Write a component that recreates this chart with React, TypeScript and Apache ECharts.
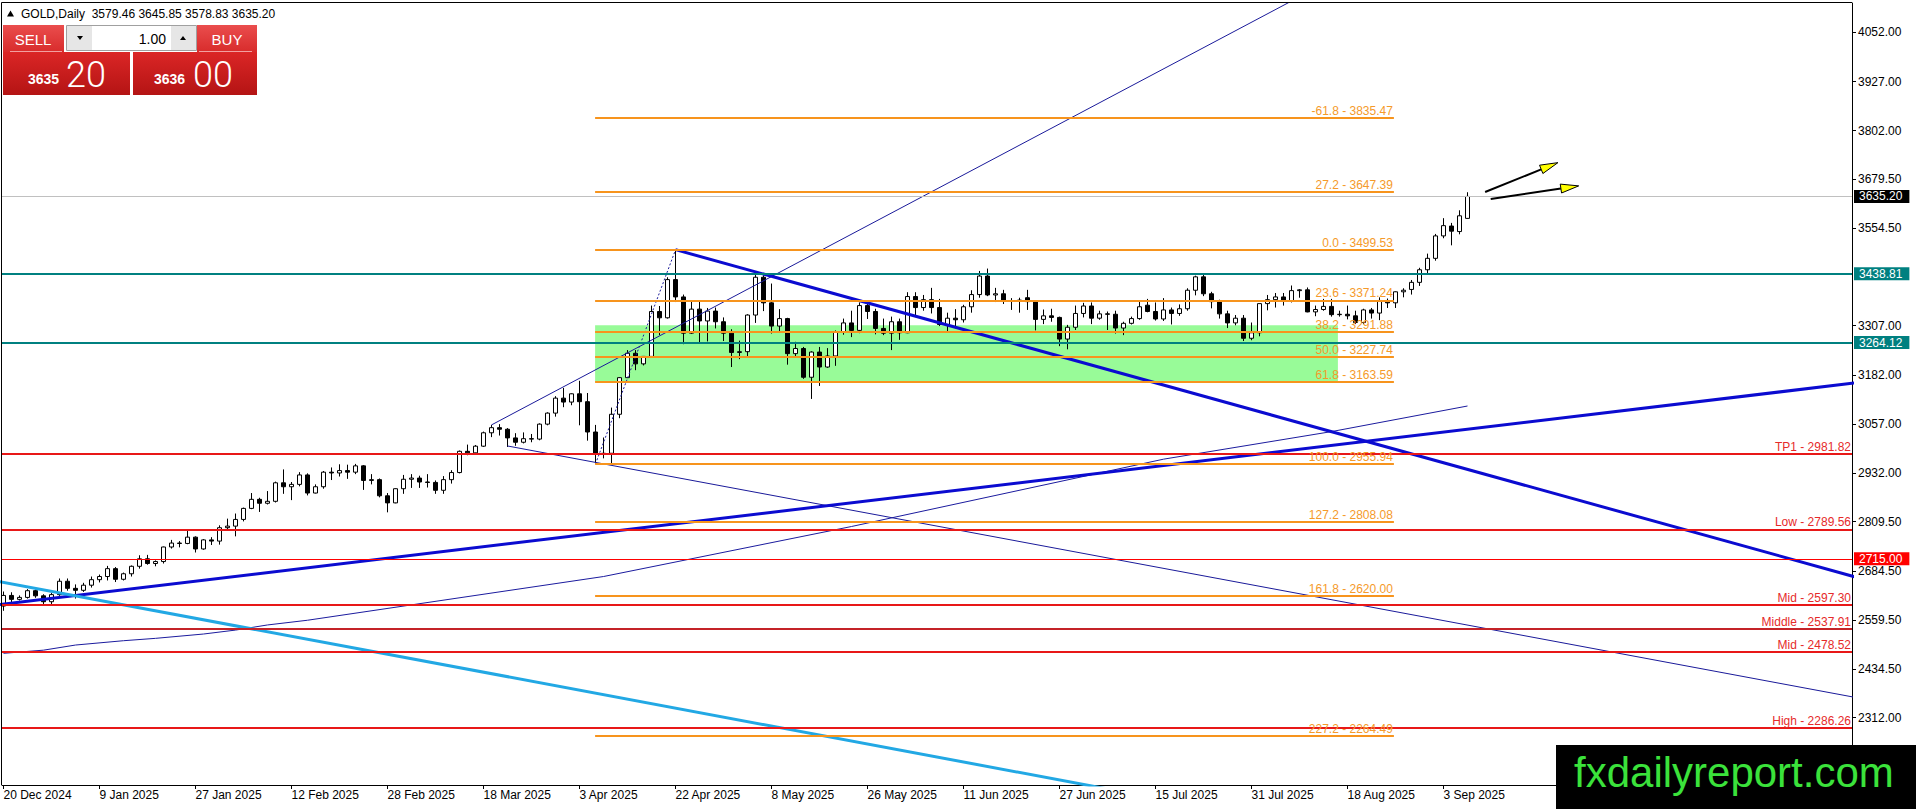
import React, { useEffect, useRef } from 'react';
import * as echarts from 'echarts';

const W = 1916;
const H = 809;
const FONT = '"Liberation Sans", Arial, Helvetica, sans-serif';

// ---- daily candles, 20 Dec 2024 (bar 0) .. 8 Sep 2025 (bar 183)
const opens = [
  2595, 2622, 2612, 2617, 2634, 2621, 2606, 2624, 2658, 2640, 2635, 2648,
  2662, 2670, 2690, 2663, 2677, 2696, 2715, 2703, 2708, 2745, 2755, 2754,
  2770, 2740, 2763, 2760, 2794, 2798, 2815, 2843, 2866, 2856, 2861, 2908,
  2898, 2904, 2928, 2882, 2898, 2935, 2933, 2939, 2935, 2951, 2914, 2916,
  2875, 2857, 2893, 2917, 2920, 2910, 2909, 2889, 2916, 2934, 2988, 2984,
  3001, 3035, 3048, 3044, 3022, 3011, 3020, 3019, 3057, 3085, 3123, 3113,
  3134, 3114, 3037, 2982, 2983, 3082, 3175, 3237, 3210, 3229, 3343, 3327,
  3424, 3380, 3288, 3349, 3319, 3344, 3317, 3288, 3239, 3241, 3334, 3430,
  3365, 3306, 3325, 3236, 3249, 3176, 3240, 3202, 3230, 3290, 3314, 3295,
  3358, 3343, 3300, 3288, 3317, 3289, 3381, 3353, 3373, 3353, 3310, 3326,
  3322, 3355, 3386, 3433, 3385, 3388, 3369, 3370, 3378, 3368, 3323, 3332,
  3328, 3273, 3303, 3338, 3357, 3326, 3337, 3336, 3301, 3313, 3325, 3359,
  3343, 3324, 3347, 3338, 3350, 3397, 3431, 3388, 3368, 3337, 3314, 3326,
  3275, 3289, 3363, 3373, 3380, 3369, 3396, 3398, 3342, 3348, 3356, 3335,
  3336, 3332, 3315, 3347, 3339, 3371, 3365, 3393, 3399, 3417, 3449, 3478,
  3535, 3560, 3546, 3579.46,
];
const highs = [
  2632, 2630, 2622, 2638, 2637, 2625, 2628, 2665, 2665, 2650, 2654, 2670,
  2675, 2697, 2694, 2680, 2698, 2724, 2725, 2711, 2746, 2763, 2760, 2786,
  2772, 2765, 2770, 2800, 2817, 2830, 2845, 2882, 2870, 2887, 2911, 2942,
  2910, 2935, 2932, 2904, 2938, 2947, 2955, 2954, 2956, 2953, 2930, 2919,
  2882, 2894, 2928, 2930, 2926, 2930, 2914, 2925, 2940, 2990, 3005, 3004,
  3038, 3055, 3057, 3047, 3034, 3036, 3032, 3059, 3087, 3128, 3149, 3135,
  3167, 3136, 3055, 3023, 3099, 3176, 3245, 3245, 3230, 3358, 3357, 3430,
  3500, 3386, 3368, 3371, 3352, 3353, 3328, 3298, 3269, 3336, 3436, 3435,
  3414, 3349, 3327, 3266, 3253, 3242, 3253, 3250, 3295, 3325, 3345, 3366,
  3365, 3350, 3325, 3330, 3325, 3392, 3392, 3385, 3403, 3375, 3340, 3349,
  3360, 3397, 3446, 3452, 3403, 3398, 3377, 3378, 3398, 3370, 3348, 3350,
  3330, 3309, 3358, 3365, 3366, 3345, 3343, 3345, 3317, 3330, 3369, 3375,
  3366, 3377, 3353, 3361, 3402, 3434, 3439, 3393, 3373, 3345, 3334, 3334,
  3315, 3363, 3385, 3390, 3390, 3409, 3400, 3404, 3358, 3375, 3375, 3345,
  3358, 3345, 3350, 3352, 3379, 3376, 3394, 3402, 3423, 3454, 3490, 3540,
  3580, 3568, 3600, 3645.85,
];
const lows = [
  2583, 2603, 2609, 2614, 2616, 2597, 2599, 2621, 2634, 2614, 2631, 2642,
  2655, 2660, 2656, 2660, 2670, 2690, 2700, 2696, 2703, 2741, 2744, 2752,
  2731, 2738, 2750, 2751, 2788, 2772, 2810, 2841, 2834, 2853, 2858, 2880,
  2864, 2899, 2876, 2881, 2893, 2915, 2924, 2918, 2930, 2890, 2904, 2871,
  2833, 2856, 2880, 2895, 2895, 2896, 2880, 2880, 2906, 2932, 2978, 2983,
  2999, 3024, 3028, 2999, 3002, 3008, 3011, 3016, 3054, 3076, 3100, 3105,
  3054, 3015, 2956, 2970, 2957, 3072, 3174, 3194, 3206, 3228, 3283, 3325,
  3367, 3260, 3286, 3265, 3267, 3300, 3268, 3202, 3222, 3226, 3314, 3344,
  3287, 3290, 3208, 3228, 3172, 3121, 3154, 3200, 3205, 3284, 3278, 3288,
  3324, 3285, 3283, 3245, 3271, 3288, 3333, 3345, 3338, 3306, 3293, 3300,
  3315, 3340, 3378, 3382, 3367, 3362, 3347, 3340, 3347, 3295, 3311, 3317,
  3255, 3247, 3296, 3328, 3311, 3322, 3296, 3287, 3283, 3310, 3322, 3341,
  3320, 3319, 3310, 3332, 3345, 3384, 3382, 3351, 3325, 3301, 3308, 3268,
  3270, 3280, 3346, 3353, 3358, 3366, 3378, 3341, 3331, 3345, 3330, 3330,
  3323, 3311, 3311, 3325, 3321, 3352, 3352, 3379, 3386, 3408, 3436, 3472,
  3529, 3511, 3539, 3578.83,
];
const closes = [
  2622, 2612, 2617, 2634, 2621, 2606, 2624, 2658, 2640, 2635, 2648, 2662,
  2670, 2690, 2663, 2677, 2696, 2715, 2703, 2708, 2745, 2755, 2754, 2770,
  2740, 2763, 2760, 2794, 2798, 2815, 2843, 2866, 2856, 2861, 2908, 2898,
  2904, 2928, 2882, 2898, 2935, 2933, 2939, 2935, 2951, 2914, 2916, 2875,
  2857, 2893, 2917, 2920, 2910, 2909, 2889, 2916, 2934, 2988, 2984, 3001,
  3035, 3048, 3044, 3022, 3011, 3020, 3019, 3057, 3085, 3123, 3113, 3134,
  3114, 3037, 2982, 2983, 3082, 3175, 3237, 3210, 3229, 3343, 3327, 3424,
  3380, 3288, 3349, 3319, 3344, 3317, 3288, 3239, 3241, 3334, 3430, 3365,
  3306, 3325, 3236, 3249, 3176, 3240, 3202, 3230, 3290, 3314, 3295, 3358,
  3343, 3300, 3288, 3317, 3289, 3381, 3353, 3373, 3353, 3310, 3326, 3322,
  3355, 3386, 3433, 3385, 3388, 3369, 3370, 3372, 3368, 3323, 3332, 3328,
  3273, 3303, 3338, 3357, 3326, 3337, 3336, 3301, 3313, 3325, 3355, 3343,
  3324, 3347, 3338, 3350, 3397, 3431, 3388, 3368, 3337, 3314, 3326, 3275,
  3289, 3363, 3373, 3380, 3369, 3396, 3398, 3342, 3348, 3356, 3335, 3336,
  3332, 3315, 3347, 3339, 3371, 3365, 3393, 3397, 3417, 3449, 3478, 3535,
  3561, 3547, 3586, 3635.2,
];

// ---- time axis labels (every 12 bars)
const dateLabelBars = [0, 12, 24, 36, 48, 60, 72, 84, 96, 108, 120, 132, 144, 156, 168, 180];
const dateLabels = [
  '20 Dec 2024', '9 Jan 2025', '27 Jan 2025', '12 Feb 2025', '28 Feb 2025', '18 Mar 2025',
  '3 Apr 2025', '22 Apr 2025', '8 May 2025', '26 May 2025', '11 Jun 2025', '27 Jun 2025',
  '15 Jul 2025', '31 Jul 2025', '18 Aug 2025', '3 Sep 2025',
];

// ---- price axis labels
const priceTicks = [4052, 3927, 3802, 3679.5, 3554.5, 3307, 3182, 3057, 2932, 2809.5, 2684.5, 2559.5, 2434.5, 2312];

// ---- moving average (thin navy curve), read at several bars
const maBars = [0, 5, 9, 15, 19, 25, 29, 33, 38, 75, 106, 145, 166, 183];
const maValues = [2475, 2483, 2496, 2507, 2513, 2524, 2534, 2547, 2559, 2670, 2797, 2968, 3038, 3103];

// ---- Fibonacci retracement (Apr 7 low -> Apr 22 high)
const fibLevels = [-61.8, 27.2, 0.0, 23.6, 38.2, 50.0, 61.8, 100.0, 127.2, 161.8, 227.2];
const fibPrices = [3835.47, 3647.39, 3499.53, 3371.24, 3291.88, 3227.74, 3163.59, 2955.94, 2808.08, 2620.0, 2264.49];
const fibSpan = [73.95, 173.8];

// ---- red horizontal levels
const redNames = ['TP1', 'Low', 'Mid', 'Middle', 'Mid', 'High'];
const redPrices = [2981.82, 2789.56, 2597.3, 2537.91, 2478.52, 2286.26];
const redColors = ['#e81818', '#e81818', '#e81818', '#c42328', '#e81818', '#e81818'];

// ---- levels tagged on the price scale
const tagPrices = [3635.2, 3438.81, 3264.12, 2715.0];
const tagLineColors = ['#c0c0c0', '#008080', '#008080', '#ff0000'];
const tagBoxColors = ['#000000', '#008080', '#008080', '#ff0000'];
const tagLineWidths = [1, 2, 2, 1];

// ---- green zone
const zoneCorners = [[73.95, 3308], [166.8, 3163.59]];

// ---- trend lines [bar, price]
const channelUpper = [[61, 3055], [175, 4282]];
const channelLower = [[63, 3001.5], [232, 2361]];
const resistanceLine = [[84, 3500], [232, 2666]];
const supportLine = [[-1, 2597.6], [232, 3163]];
const cyanLine = [[-1, 2659], [140, 2123]];
const fibBase = [[74, 2955.94], [84, 3499.53]];

// ---- arrows
const arrowTails = [[185.2, 3646.5], [185.9, 3628.5]];
const arrowTips = [[194.3, 3721], [196.9, 3662]];

const X_MIN = -0.1875;
const X_MAX = 231.0625;
const Y_MIN = 2140.6;
const Y_MAX = 4126.4;

function trend(data: number[][], color: string, width: number, type: any = 'solid', z = 4) {
  return {
    type: 'line',
    data,
    showSymbol: false,
    symbol: 'none',
    clip: true,
    silent: true,
    z,
    lineStyle: { color, width, type },
  };
}

function buildOption() {
  const candleData = opens.map((o, i) => [i, o, closes[i], lows[i], highs[i]]);

  const fibMarks = fibLevels.map((lv, i) => [
    {
      coord: [fibSpan[0], fibPrices[i]],
      lineStyle: { color: '#f7941d', width: 2, type: 'solid' },
      label: {
        show: true,
        position: 'insideEndTop',
        formatter: `${lv.toFixed(1)} - ${fibPrices[i].toFixed(2)}`,
        color: '#f59a2a',
        fontSize: 12,
        fontFamily: FONT,
        distance: [1, 1],
      },
    },
    { coord: [fibSpan[1], fibPrices[i]] },
  ]);

  const redMarks = redPrices.map((p, i) => ({
    yAxis: p,
    lineStyle: { color: redColors[i], width: 2, type: 'solid' },
    label: {
      show: true,
      position: 'insideEndTop',
      formatter: `${redNames[i]} - ${p.toFixed(2)}`,
      color: '#e62a2a',
      fontSize: 12,
      fontFamily: FONT,
      distance: [1, 1],
    },
  }));

  const tagMarks = tagPrices.map((p, i) => ({
    yAxis: p,
    lineStyle: { color: tagLineColors[i], width: tagLineWidths[i], type: 'solid' },
    label: {
      show: true,
      position: 'end',
      formatter: p.toFixed(2),
      color: '#fff',
      backgroundColor: tagBoxColors[i],
      padding: [1, 7, 0, 5],
      fontSize: 12,
      fontFamily: FONT,
      distance: 2,
    },
  }));

  const graphics: any[] = [
    // frame
    { type: 'line', shape: { x1: 1.5, y1: 2.5, x2: 1.5, y2: 785 }, style: { stroke: '#000', lineWidth: 1 }, z: 50 },
    { type: 'line', shape: { x1: 1.5, y1: 2.5, x2: 1852, y2: 2.5 }, style: { stroke: '#000', lineWidth: 1 }, z: 50 },
    // title
    { type: 'polygon', shape: { points: [[7, 16.5], [14, 16.5], [10.5, 10.5]] }, style: { fill: '#000' }, z: 60 },
    {
      type: 'text', z: 60,
      style: { text: 'GOLD,Daily  3579.46 3645.85 3578.83 3635.20', x: 21, y: 13.5, verticalAlign: 'middle', fill: '#000', fontSize: 12, fontFamily: FONT },
    },
    // one click trading panel
    { type: 'rect', z: 60, shape: { x: 3, y: 25, width: 61, height: 27 }, style: { fill: new echarts.graphic.LinearGradient(0, 0, 0, 1, [{ offset: 0, color: '#ea4d4d' }, { offset: 1, color: '#d82c2c' }]) } },
    { type: 'rect', z: 60, shape: { x: 197, y: 25, width: 60, height: 27 }, style: { fill: new echarts.graphic.LinearGradient(0, 0, 0, 1, [{ offset: 0, color: '#ea4d4d' }, { offset: 1, color: '#d82c2c' }]) } },
    { type: 'rect', z: 60, shape: { x: 3, y: 52, width: 127, height: 43 }, style: { fill: new echarts.graphic.LinearGradient(0, 0, 0, 1, [{ offset: 0, color: '#db2626' }, { offset: 1, color: '#b41414' }]) } },
    { type: 'rect', z: 60, shape: { x: 133, y: 52, width: 124, height: 43 }, style: { fill: new echarts.graphic.LinearGradient(0, 0, 0, 1, [{ offset: 0, color: '#db2626' }, { offset: 1, color: '#b41414' }]) } },
    { type: 'line', z: 61, shape: { x1: 10, y1: 51.5, x2: 62, y2: 51.5 }, style: { stroke: '#f2a0a0', lineWidth: 1 } },
    { type: 'line', z: 61, shape: { x1: 199, y1: 51.5, x2: 252, y2: 51.5 }, style: { stroke: '#f2a0a0', lineWidth: 1 } },
    { type: 'rect', z: 60, shape: { x: 66.5, y: 25.5, width: 130, height: 25 }, style: { fill: '#fff', stroke: '#a0a0a0', lineWidth: 1 } },
    { type: 'rect', z: 61, shape: { x: 67, y: 26, width: 25, height: 24 }, style: { fill: '#e6e6e6' } },
    { type: 'rect', z: 61, shape: { x: 171, y: 26, width: 25, height: 24 }, style: { fill: '#e6e6e6' } },
    { type: 'polygon', z: 62, shape: { points: [[77, 36], [83, 36], [80, 40]] }, style: { fill: '#000' } },
    { type: 'polygon', z: 62, shape: { points: [[180, 40], [186, 40], [183, 36]] }, style: { fill: '#000' } },
    { type: 'text', z: 62, style: { text: '1.00', x: 166, y: 38.5, align: 'right', verticalAlign: 'middle', fill: '#000', fontSize: 14, fontFamily: FONT } },
    { type: 'text', z: 62, style: { text: 'SELL', x: 33, y: 39, align: 'center', verticalAlign: 'middle', fill: '#fff', fontSize: 15, fontFamily: FONT } },
    { type: 'text', z: 62, style: { text: 'BUY', x: 227, y: 39, align: 'center', verticalAlign: 'middle', fill: '#fff', fontSize: 15, fontFamily: FONT } },
    { type: 'text', z: 62, style: { text: '3635', x: 28, y: 79, verticalAlign: 'middle', fill: '#fff', fontSize: 14, fontWeight: 'bold', fontFamily: FONT } },
    { type: 'text', z: 62, style: { text: '20', x: 66, y: 75, verticalAlign: 'middle', fill: '#fff', fontSize: 36, fontWeight: 300, fontFamily: 'Roboto, ' + FONT } },
    { type: 'text', z: 62, style: { text: '3636', x: 154, y: 79, verticalAlign: 'middle', fill: '#fff', fontSize: 14, fontWeight: 'bold', fontFamily: FONT } },
    { type: 'text', z: 62, style: { text: '00', x: 193, y: 75, verticalAlign: 'middle', fill: '#fff', fontSize: 36, fontWeight: 300, fontFamily: 'Roboto, ' + FONT } },
    // watermark
    { type: 'rect', z: 70, shape: { x: 1556, y: 745, width: 360, height: 64 }, style: { fill: '#000' } },
    { type: 'text', z: 71, style: { text: 'fxdailyreport.com', x: 1574, y: 772, verticalAlign: 'middle', fill: '#3be23b', fontSize: 42, fontFamily: FONT } },
  ];

  return {
    animation: false,
    backgroundColor: '#ffffff',
    tooltip: { show: false },
    grid: { left: 2, right: 64, top: 3, bottom: 24, containLabel: false, outerBoundsMode: 'none' },
    xAxis: {
      type: 'value',
      min: X_MIN,
      max: X_MAX,
      axisLine: { show: true, onZero: false, lineStyle: { color: '#000', width: 1 } },
      axisTick: { show: true, customValues: dateLabelBars, length: 4, lineStyle: { color: '#000' } },
      axisLabel: {
        show: true,
        customValues: dateLabelBars,
        formatter: (v: number) => {
          const k = dateLabelBars.indexOf(Math.round(v));
          return k >= 0 ? dateLabels[k] : '';
        },
        align: 'left',
        margin: 4,
        color: '#000',
        fontSize: 12,
        fontFamily: FONT,
        hideOverlap: false,
      },
      splitLine: { show: false },
    },
    yAxis: {
      type: 'value',
      position: 'right',
      min: Y_MIN,
      max: Y_MAX,
      axisLine: { show: true, onZero: false, lineStyle: { color: '#000', width: 1 } },
      axisTick: { show: true, customValues: priceTicks, length: 4, lineStyle: { color: '#000' } },
      axisLabel: {
        show: true,
        customValues: priceTicks,
        formatter: (v: number) => v.toFixed(2),
        margin: 6,
        color: '#000',
        fontSize: 12,
        fontFamily: FONT,
        hideOverlap: false,
      },
      splitLine: { show: false },
    },
    graphic: { elements: graphics },
    series: [
      {
        type: 'line',
        name: 'zone',
        data: [],
        z: 1,
        silent: true,
        markArea: {
          silent: true,
          itemStyle: { color: '#98fb98', opacity: 1 },
          data: [[{ coord: zoneCorners[0] }, { coord: zoneCorners[1] }]],
        },
      },
      {
        type: 'candlestick',
        name: 'GOLD',
        data: candleData,
        dimensions: ['bar', 'open', 'close', 'lowest', 'highest'],
        encode: { x: 0, y: [1, 2, 3, 4] },
        barWidth: 5,
        z: 2,
        silent: true,
        itemStyle: {
          color: '#ffffff',
          color0: '#000000',
          borderColor: '#000000',
          borderColor0: '#000000',
          borderColorDoji: '#000000',
          borderWidth: 1,
        },
      },
      {
        type: 'line',
        name: 'MA',
        data: maBars.map((b, i) => [b, maValues[i]]),
        showSymbol: false,
        symbol: 'none',
        silent: true,
        z: 3,
        lineStyle: { color: '#1b1b9e', width: 1 },
      },
      {
        type: 'line',
        name: 'levels',
        data: [],
        z: 3,
        silent: true,
        markLine: {
          silent: true,
          symbol: ['none', 'none'],
          animation: false,
          data: [...tagMarks, ...redMarks, ...fibMarks],
        },
      },
      trend(channelUpper, '#1a1a9a', 1),
      trend(channelLower, '#1a1a9a', 1),
      trend(resistanceLine, '#0b0bd0', 3),
      trend(supportLine, '#0b0bd0', 3),
      trend(cyanLine, '#22a8e4', 3),
      trend(fibBase, '#1a1a9a', 1, [2, 2]),
      {
        type: 'custom',
        name: 'arrows',
        data: arrowTails.map((t, i) => [t[0], t[1], arrowTips[i][0], arrowTips[i][1]]),
        encode: { x: [0, 2], y: [1, 3] },
        clip: false,
        silent: true,
        z: 6,
        renderItem: (_params: any, api: any) => {
          const a = api.coord([api.value(0), api.value(1)]);
          const b = api.coord([api.value(2), api.value(3)]);
          const dx = b[0] - a[0];
          const dy = b[1] - a[1];
          const len = Math.hypot(dx, dy) || 1;
          const ux = dx / len;
          const uy = dy / len;
          const hl = 18;
          const hw = 4.5;
          const base = [b[0] - ux * hl, b[1] - uy * hl];
          const p1 = [base[0] - uy * hw, base[1] + ux * hw];
          const p2 = [base[0] + uy * hw, base[1] - ux * hw];
          return {
            type: 'group',
            children: [
              { type: 'line', shape: { x1: a[0], y1: a[1], x2: base[0], y2: base[1] }, style: { stroke: '#000', lineWidth: 2 } },
              { type: 'polygon', shape: { points: [b, p1, p2] }, style: { fill: '#ffff00', stroke: '#000', lineWidth: 1 } },
            ],
          };
        },
      },
    ],
  };
}

export default function App() {
  const ref = useRef<HTMLDivElement>(null);
  useEffect(() => {
    if (!ref.current) return;
    const chart = echarts.init(ref.current, null, { renderer: 'svg' });
    chart.setOption(buildOption() as any);
    return () => chart.dispose();
  }, []);
  return (
    <div
      ref={ref}
      style={{ position: 'absolute', left: 0, top: 0, width: W, height: H, background: '#fff' }}
    />
  );
}
